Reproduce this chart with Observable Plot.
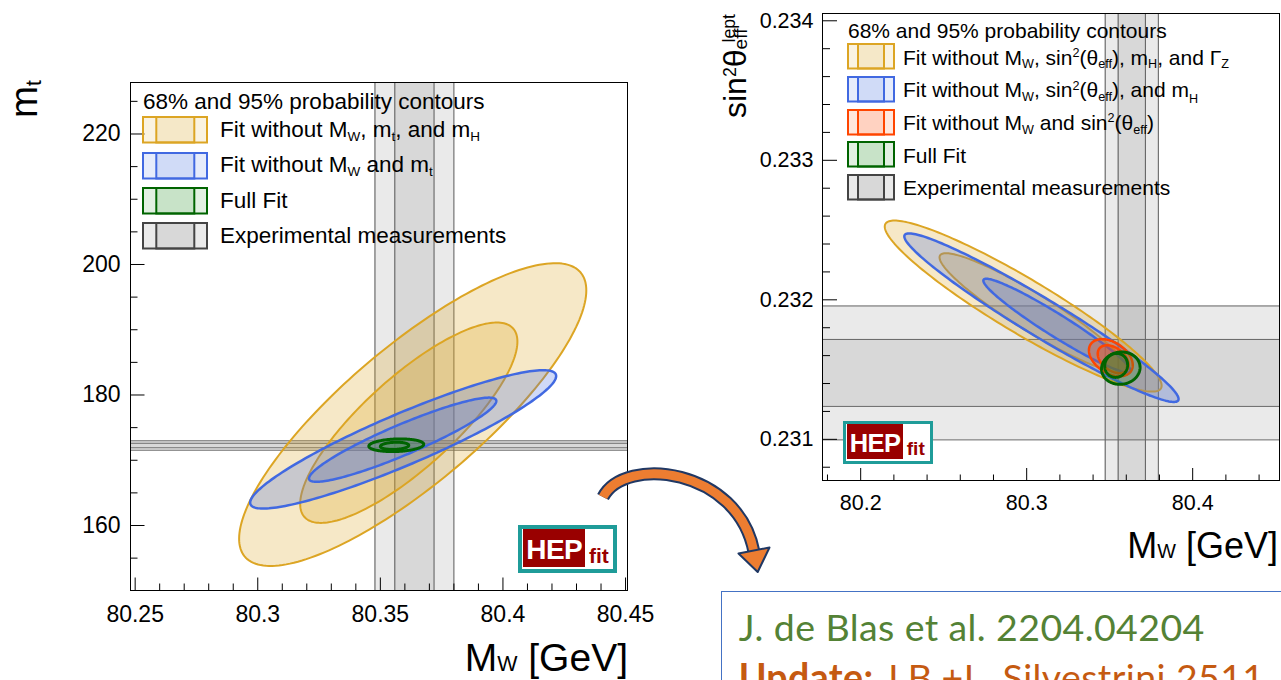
<!DOCTYPE html>
<html><head><meta charset="utf-8">
<script src="https://cdn.jsdelivr.net/npm/d3@7"></script>
<script src="https://cdn.jsdelivr.net/npm/@observablehq/plot@0.6"></script>
<style>
body{margin:0;background:#fff;}
#page{position:relative;width:1281px;height:680px;overflow:hidden;background:#fff;font-family:"Liberation Sans",Arial,sans-serif;color:#000;}
.abs{position:absolute;white-space:nowrap;line-height:1;}
.sub{font-size:0.6em;position:relative;top:0.3em;}
.sup{font-size:0.6em;position:relative;top:-0.6em;}
</style></head>
<body><div id="page"></div>
<script>
// ---------------- DATA ----------------
// Left panel: m_t vs M_W
const leftXDomain = [80.2481, 80.4508];
const leftYDomain = [150.04, 227.89];
const leftXMajor = [80.25, 80.3, 80.35, 80.4, 80.45];
const leftXLabels = ["80.25", "80.3", "80.35", "80.4", "80.45"];
const leftXMinor = [80.26,80.27,80.28,80.29,80.31,80.32,80.33,80.34,80.36,80.37,80.38,80.39,80.41,80.42,80.43,80.44];
const leftYMajor = [160, 180, 200, 220];
const leftYLabels = ["160", "180", "200", "220"];
const leftYMinor = [155,165,170,175,185,190,195,205,210,215,225];
const leftMWBand = {center: 80.3639, half68: 0.0080, half95: 0.0161};
const leftMtBand = {center: 172.26, half68: 0.35, half95: 0.72};
// ellipses: centre, half extents along x and y, correlation
const leftContours = [
  {fit: "yellow", cx: 80.3632, cy: 177.0,  ax: 0.0708, ay: 23.2,  rho: 0.82},
  {fit: "yellow", cx: 80.3616, cy: 175.75, ax: 0.0443, ay: 15.35, rho: 0.81},
  {fit: "blue",   cx: 80.3593, cy: 173.2,  ax: 0.0624, ay: 10.6,  rho: 0.915},
  {fit: "blue",   cx: 80.3591, cy: 173.15, ax: 0.0382, ay: 6.45,  rho: 0.92},
  {fit: "green",  cx: 80.3565, cy: 172.3,  ax: 0.0112, ay: 0.97,  rho: 0.15},
  {fit: "green",  cx: 80.3558, cy: 172.2,  ax: 0.0058, ay: 0.56,  rho: 0.15}
];
const leftLegendTitle = "68% and 95% probability contours";
const leftLegendFits = ["yellow", "blue", "green", "gray"];
const leftLegendTexts = [
  "Fit without M<span class='sub'>W</span>, m<span class='sub'>t</span>, and m<span class='sub'>H</span>",
  "Fit without M<span class='sub'>W</span> and m<span class='sub'>t</span>",
  "Full Fit",
  "Experimental measurements"
];

// Right panel: sin^2 theta_eff vs M_W
const rightXDomain = [80.177, 80.4523];
const rightYDomain = [0.2307049, 0.2340523];
const rightXMajor = [80.2, 80.3, 80.4];
const rightXLabels = ["80.2", "80.3", "80.4"];
const rightXMinor = [80.18,80.22,80.24,80.26,80.28,80.32,80.34,80.36,80.38,80.42,80.44];
const rightYMajor = [0.231, 0.232, 0.233, 0.234];
const rightYLabels = ["0.231", "0.232", "0.233", "0.234"];
const rightYMinor = [0.2308,0.2312,0.2314,0.2316,0.2318,0.2322,0.2324,0.2326,0.2328,0.2332,0.2334,0.2336,0.2338];
const rightMWBand = {center: 80.3633, half68: 0.0082, half95: 0.0160};
const rightSwBand = {center: 0.231476, half68: 0.00024, half95: 0.00048};
const rightContours = [
  {fit: "yellow", cx: 80.2979, cy: 0.231955, ax: 0.0834, ay: 0.000613, rho: -0.93},
  {fit: "yellow", cx: 80.3038, cy: 0.231907, ax: 0.0563, ay: 0.000427, rho: -0.93},
  {fit: "blue",   cx: 80.3089, cy: 0.231872, ax: 0.0826, ay: 0.000604, rho: -0.965},
  {fit: "blue",   cx: 80.3182, cy: 0.231815, ax: 0.0443, ay: 0.000336, rho: -0.96},
  {fit: "red",    cx: 80.3507, cy: 0.231585, ax: 0.0132, ay: 0.000133, rho: -0.4},
  {fit: "red",    cx: 80.3521, cy: 0.231574, ax: 0.0093, ay: 0.000100, rho: -0.4},
  {fit: "green",  cx: 80.3567, cy: 0.231510, ax: 0.0116, ay: 0.000116, rho: 0.05},
  {fit: "green",  cx: 80.3539, cy: 0.231530, ax: 0.0069, ay: 0.000086, rho: 0.05}
];
const rightLegendTitle = "68% and 95% probability contours";
const rightLegendFits = ["yellow", "blue", "red", "green", "gray"];
const rightLegendTexts = [
  "Fit without M<span class='sub'>W</span>, sin<span class='sup'>2</span>(θ<span class='sub'>eff</span>), m<span class='sub'>H</span>, and Γ<span class='sub'>Z</span>",
  "Fit without M<span class='sub'>W</span>, sin<span class='sup'>2</span>(θ<span class='sub'>eff</span>), and m<span class='sub' style='top:.45em'>H</span>",
  "Fit without M<span class='sub'>W</span> and sin<span class='sup'>2</span>(θ<span class='sub'>eff</span>)",
  "Full Fit",
  "Experimental measurements"
];

const refLine1 = "J. de Blas et al. 2204.04204";
const refLine2Bold = "Update:";
const refLine2 = " J.B.+L. Silvestrini 2511";

// ---------------- STYLE ----------------
const fitStyle = {
  yellow: {fill: "#daa520", stroke: "#dca524", w: 2},
  blue:   {fill: "#4169e1", stroke: "#4169e1", w: 2.5},
  green:  {fill: "#228b22", stroke: "#006400", w: 3},
  red:    {fill: "#ff4500", stroke: "#ff4500", w: 2.5},
  gray:   {fill: "#808080", stroke: "#444444", w: 2}
};
const FONT = "Liberation Sans, Arial, Helvetica, sans-serif";
const page = document.getElementById("page");

function ellipse(c, n = 200) {
  const phi = Math.acos(c.rho);
  return d3.range(n + 1).map(i => {
    const t = 2 * Math.PI * i / n;
    return {x: c.cx + c.ax * Math.cos(t), y: c.cy + c.ay * Math.cos(t - phi)};
  });
}

function panel(o) {
  const fw = o.width - o.ml - o.mr, fh = o.height - o.mt - o.mb;
  const kx = (o.xd[1] - o.xd[0]) / fw, ky = (o.yd[1] - o.yd[0]) / fh;
  const marks = [];
  const g = fitStyle.gray;
  // experimental bands
  for (const b of o.vBands) {
    marks.push(Plot.rect([b], {x1: d => d.center - d.half95, x2: d => d.center + d.half95, fill: g.fill, fillOpacity: 0.17}));
    marks.push(Plot.rect([b], {x1: d => d.center - d.half68, x2: d => d.center + d.half68, fill: g.fill, fillOpacity: 0.17}));
    marks.push(Plot.ruleX([b.center - b.half95, b.center - b.half68, b.center + b.half68, b.center + b.half95], {stroke: "#555", strokeWidth: 1}));
  }
  for (const b of o.hBands) {
    marks.push(Plot.rect([b], {y1: d => d.center - d.half95, y2: d => d.center + d.half95, fill: g.fill, fillOpacity: 0.17}));
    marks.push(Plot.rect([b], {y1: d => d.center - d.half68, y2: d => d.center + d.half68, fill: g.fill, fillOpacity: 0.17}));
    marks.push(Plot.ruleY([b.center - b.half95, b.center - b.half68, b.center + b.half68, b.center + b.half95], {stroke: "#666", strokeWidth: 1}));
  }
  // contours
  for (const c of o.contours) {
    const s = fitStyle[c.fit];
    marks.push(Plot.line(ellipse(c), {x: "x", y: "y", fill: s.fill, fillOpacity: 0.25, stroke: s.stroke, strokeWidth: s.w, curve: "linear"}));
  }
  // inward ticks
  marks.push(Plot.ruleX(o.xMajor, {x: d => d, y1: () => o.yd[0], y2: () => o.yd[0] + o.tx[0] * ky, stroke: "black"}));
  marks.push(Plot.ruleX(o.xMinor, {x: d => d, y1: () => o.yd[0], y2: () => o.yd[0] + o.tx[1] * ky, stroke: "black"}));
  marks.push(Plot.ruleY(o.yMajor, {y: d => d, x1: () => o.xd[0], x2: () => o.xd[0] + o.ty[0] * kx, stroke: "black"}));
  marks.push(Plot.ruleY(o.yMinor, {y: d => d, x1: () => o.xd[0], x2: () => o.xd[0] + o.ty[1] * kx, stroke: "black"}));
  marks.push(Plot.frame({stroke: "black", strokeWidth: 1}));
  marks.push(Plot.axisX({ticks: o.xMajor, tickFormat: d => o.xLabels[o.xMajor.indexOf(d)], tickSize: 0, tickPadding: o.padX, fontSize: o.fs, label: null, fill: "black"}));
  marks.push(Plot.axisY({ticks: o.yMajor, tickFormat: d => o.yLabels[o.yMajor.indexOf(d)], tickSize: 0, tickPadding: o.padY, fontSize: o.fs, label: null, fill: "black"}));
  const svg = Plot.plot({
    width: o.width, height: o.height,
    marginLeft: o.ml, marginRight: o.mr, marginTop: o.mt, marginBottom: o.mb,
    x: {domain: o.xd}, y: {domain: o.yd},
    style: {background: "transparent", fontFamily: FONT, color: "black", overflow: "visible"},
    marks
  });
  const wrap = document.createElement("div");
  wrap.className = "abs";
  wrap.style.left = o.left + "px"; wrap.style.top = "0px";
  wrap.appendChild(svg);
  page.appendChild(wrap);
}

panel({left: 0, width: 660, height: 680, ml: 130, mr: 33, mt: 82, mb: 90,
  xd: leftXDomain, yd: leftYDomain, xMajor: leftXMajor, xLabels: leftXLabels, xMinor: leftXMinor,
  yMajor: leftYMajor, yLabels: leftYLabels, yMinor: leftYMinor,
  vBands: [leftMWBand], hBands: [leftMtBand], contours: leftContours,
  tx: [12.5, 6.5], ty: [14.5, 7.5], padX: 15, padY: 10, fs: 23});

panel({left: 700, width: 581, height: 680, ml: 122, mr: 2, mt: 13, mb: 200,
  xd: rightXDomain, yd: rightYDomain, xMajor: rightXMajor, xLabels: rightXLabels, xMinor: rightXMinor,
  yMajor: rightYMajor, yLabels: rightYLabels, yMinor: rightYMinor,
  vBands: [rightMWBand], hBands: [rightSwBand], contours: rightContours,
  tx: [12, 5.5], ty: [15, 8], padX: 14, padY: 9, fs: 21.5});

// ---------------- HTML text / legends ----------------
function addText(html, css) {
  const d = document.createElement("div");
  d.className = "abs";
  d.style.cssText += css;
  d.innerHTML = html;
  page.appendChild(d);
  return d;
}
function swatch(x, y, w, h, i1, i2, fit, a) {
  const s = fitStyle[fit];
  const ns = "http://www.w3.org/2000/svg";
  const svg = document.createElementNS(ns, "svg");
  svg.setAttribute("width", w + 4); svg.setAttribute("height", h + 4);
  svg.style.cssText = `position:absolute;left:${x - 2}px;top:${y - 2}px;overflow:visible`;
  svg.innerHTML = `<rect x="2" y="2" width="${w}" height="${h}" fill="${s.fill}" fill-opacity="${a}" stroke="${s.stroke}" stroke-width="2"/>
    <rect x="${2 + i1}" y="2" width="${i2 - i1}" height="${h}" fill="${s.fill}" fill-opacity="${a}" stroke="${s.stroke}" stroke-width="2"/>`;
  page.appendChild(svg);
}
function legend(o) {
  addText(o.title, `left:${o.titleX}px;top:${o.titleY}px;font-size:${o.fs}px;transform:translateY(-50%);`);
  o.fits.forEach((f, i) => {
    const cy = o.y0 + i * o.dy;
    const a = f === "gray" ? 0.17 : 0.13;
    swatch(o.sx, cy - o.sh / 2, o.sw, o.sh, o.i1, o.i2, f, a);
    addText(o.texts[i], `left:${o.tx}px;top:${cy}px;font-size:${o.fs}px;transform:translateY(-50%);`);
  });
}
legend({title: leftLegendTitle, titleX: 143, titleY: 101.5, fs: 22.5, fits: leftLegendFits, texts: leftLegendTexts,
  y0: 130, dy: 35.4, sx: 142.7, sw: 64, sh: 25.5, i1: 13.3, i2: 51.3, tx: 220});
legend({title: rightLegendTitle, titleX: 848, titleY: 30, fs: 21, fits: rightLegendFits, texts: rightLegendTexts,
  y0: 56.6, dy: 32.7, sx: 848, sw: 46, sh: 24.5, i1: 10, i2: 36, tx: 903});

// axis titles
addText("M<span style='font-size:.55em'>W</span> [GeV]", `right:${1281 - 628}px;top:${671 - 0.8465 * 39}px;font-size:39px;`);
addText("M<span style='font-size:.55em'>W</span> [GeV]", `right:${1281 - 1278}px;top:${558.6 - 0.8465 * 36}px;font-size:36px;`);
addText("m<span style='font-size:.55em;position:relative;top:.2em'>t</span>", `left:${34.3 - 0.8465 * 38.5}px;top:118px;font-size:38.5px;line-height:1.15;transform-origin:0 0;transform:rotate(-90deg);`);
addText("sin<span style='font-size:.55em;position:relative;top:-.55em'>2</span>θ<span style='font-size:.6em;position:relative;top:.06em'>eff</span><span style='font-size:.55em;position:relative;top:-.6em;margin-left:-14px'>lept</span>",
  `left:${746 - 0.8465 * 32}px;top:118px;font-size:32px;transform-origin:0 0;transform:rotate(-90deg);`);

// HEPfit logos
function logo(x, y, s) {
  const d = document.createElement("div");
  d.style.cssText = `position:absolute;left:${x}px;top:${y}px;width:${99 * s}px;height:${47.7 * s}px;box-sizing:border-box;border:${4 * s}px solid #1f9c99;background:#fff;font-family:${FONT};font-weight:bold;line-height:1;`;
  d.innerHTML = `<div style="position:absolute;left:${1 * s}px;top:${0.3 * s}px;width:${62.3 * s}px;height:${38 * s}px;background:#990000;"></div>
    <div style="position:absolute;left:${4.5 * s}px;top:${7.3 * s}px;color:#fff;font-size:${28 * s}px;letter-spacing:${-0.5 * s}px;">HEP</div>
    <div style="position:absolute;left:${67.3 * s}px;top:${16.2 * s}px;color:#990000;font-size:${21 * s}px;">fit</div>`;
  page.appendChild(d);
}
logo(517.7, 525, 1);
logo(842.6, 421, 0.909);

// reference box
const box = document.createElement("div");
box.style.cssText = "position:absolute;left:720.5px;top:590.5px;width:700px;height:200px;border:1.5px solid #4472c4;background:#fff;";
page.appendChild(box);
addText(refLine1, `left:738.7px;top:${640 - 0.8465 * 37.5}px;font-family:Lato,'Open Sans',sans-serif;font-size:37.5px;letter-spacing:0.4px;color:#548235;`);
addText(`<b>${refLine2Bold}</b>${refLine2}`, `left:738.7px;top:${690 - 0.8465 * 37.5}px;font-family:Lato,'Open Sans',sans-serif;font-size:37.5px;letter-spacing:0.4px;color:#c55a11;`);

// curved arrow (decoration)
const ns = "http://www.w3.org/2000/svg";
const arrow = document.createElementNS(ns, "svg");
arrow.setAttribute("width", 1281); arrow.setAttribute("height", 680);
arrow.style.cssText = "position:absolute;left:0;top:0;pointer-events:none;";
const body = "M603,497 C625,455 738,468 754,552";
arrow.innerHTML = `<path d="${body}" fill="none" stroke="#203864" stroke-width="13"/>
  <path d="${body}" fill="none" stroke="#ed7d31" stroke-width="9"/>
  <polygon points="738.5,553.5 769.5,547.5 757.7,572" fill="#ed7d31" stroke="#203864" stroke-width="2" stroke-linejoin="round"/>`;
page.appendChild(arrow);
</script></body></html>
